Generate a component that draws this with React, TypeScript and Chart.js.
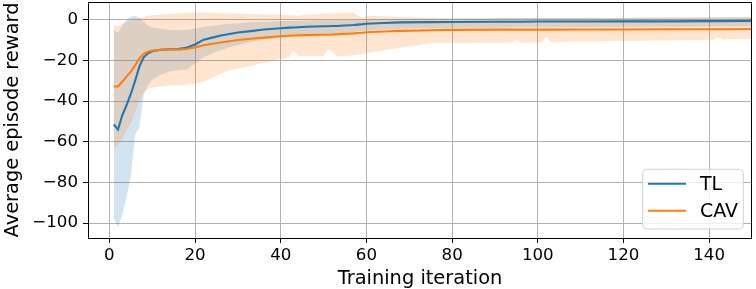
import React, { useEffect, useRef } from "react";
import { Chart, registerables } from "chart.js";

Chart.register(...registerables);

const X = [1, 2, 3, 4, 5, 6, 7, 8, 9, 10, 12, 14, 16, 18, 20, 22, 24, 26, 28, 30, 33, 36, 40, 42, 43, 44, 46, 50, 51, 52, 53, 54, 57, 58, 59, 60, 64, 68, 75, 80, 90, 94, 95, 96, 100, 101, 102, 103, 110, 120, 130, 140, 141, 142, 143, 150];

const TL_MEAN = [-51.5, -54, -47, -42, -36.5, -30, -23, -18.5, -16.5, -15.5, -14.8, -14.5, -14.4, -13.8, -12.2, -9.8, -8.8, -7.8, -7, -6.3, -5.6, -4.8, -4.2, -3.9, -3.8, -3.7, -3.5, -3.2, -3.2, -3.1, -3.1, -3.0, -2.6, -2.4, -2.2, -2.0, -1.6, -1.3, -1.2, -1.1, -1.0, -1.0, -1.0, -1.0, -0.9, -0.9, -0.9, -0.9, -0.9, -0.8, -0.8, -0.7, -0.7, -0.7, -0.7, -0.6];
const TL_UP = [-5, -6.5, -3, 0, 1.5, 2, 1, -1, -3, -3.8, -4.5, -5, -5.2, -5, -4.5, -3.5, -3, -2.5, -2, -1.8, -1.3, -1, -0.6, -0.5, -0.5, -0.5, -0.4, -0.3, -0.3, -0.2, -0.2, -0.1, 0, 0, 0.1, 0.2, 0.4, 0.5, 0.6, 0.7, 0.8, 0.8, 0.8, 0.8, 0.9, 0.9, 0.9, 0.9, 1, 1, 1.1, 1.1, 1.1, 1.1, 1.1, 1.2];
const TL_LO = [-98, -102, -96, -87, -77, -56.5, -53, -37, -32, -29.5, -27, -25.5, -24.8, -24.5, -21.5, -18.5, -16.5, -15, -13.5, -12.5, -11, -9.8, -8.6, -8.2, -8, -7.8, -7.5, -7, -6.9, -6.8, -6.7, -6.5, -6, -5.8, -5.6, -5.3, -4.8, -4.4, -4.2, -4.0, -3.9, -3.8, -3.8, -3.8, -3.7, -3.7, -3.7, -3.7, -3.6, -3.5, -3.5, -3.4, -3.4, -3.4, -3.4, -3.3];

const CAV_MEAN = [-32.8, -32.8, -30.5, -28, -25.5, -22.5, -19, -16.8, -15.8, -15.2, -14.8, -14.7, -14.7, -14.4, -13.6, -12.6, -11.8, -11.2, -10.6, -10.0, -9.4, -8.8, -8.1, -7.9, -7.8, -7.7, -7.6, -7.4, -7.4, -7.3, -7.2, -7.1, -6.7, -6.5, -6.4, -6.2, -5.8, -5.5, -5.2, -5.0, -4.9, -4.9, -4.9, -4.9, -4.9, -4.9, -4.9, -4.9, -4.8, -4.8, -4.7, -4.7, -4.7, -4.7, -4.7, -4.6];
const CAV_UP = [-2.5, -3, -2, -1, -0.5, 0, 0.8, 1.5, 2, 2.2, 2.5, 2.8, 3, 3.3, 3.6, 3.5, 3.3, 3.2, 3, 2.9, 2.8, 2.6, 2.4, 2.2, 2.1, 2.0, 2.4, 2.9, 3.0, 3.1, 3.2, 3.3, 3.6, 2.0, 0.8, 2.0, 1.7, 1.5, 0.8, 0.4, 0.6, 0.8, 0.8, 0.8, 0.8, 0.8, 0.8, 0.8, 0.8, 0.8, 1.0, 1.2, 1.2, 1.3, 1.3, 1.4];
const CAV_LO = [-63.4, -61.5, -58.5, -54.5, -50.5, -45.5, -40, -35.5, -34, -33.5, -32.8, -32.3, -32.3, -32, -31.5, -30.5, -28.5, -26.5, -25, -24, -22.8, -21.2, -19.5, -18.3, -15, -18, -17.9, -17.8, -14.6, -15.5, -18, -18.1, -17.5, -17.2, -16.9, -16.5, -15, -13.8, -11.6, -11.4, -11.3, -11.3, -9.5, -11.3, -11.2, -11.0, -8.5, -10.8, -10.7, -10.4, -10.2, -9.9, -9.8, -8.2, -9.7, -9.4];

const SERIES_LABELS = ["TL", "CAV"];
const X_TICKS = [0, 20, 40, 60, 80, 100, 120, 140];
const Y_TICKS = [-100, -80, -60, -40, -20, 0];
const X_TITLE = "Training iteration";
const Y_TITLE = "Average episode reward";

const BLUE = "#1f77b4";
const ORANGE = "#ff7f0e";
const FONT = "DejaVu Sans";

const pts = (ys: number[]) => X.map((x, i) => ({ x, y: ys[i] }));

const spinePlugin = {
  id: "spines",
  afterDatasetsDraw(chart: any) {
    const { ctx, chartArea } = chart;
    ctx.save();
    ctx.strokeStyle = "#000";
    ctx.lineWidth = 1;
    const l = Math.round(chartArea.left) + 0.5;
    const r = Math.round(chartArea.right) - 0.5;
    const t = Math.round(chartArea.top) + 0.5;
    const b = Math.round(chartArea.bottom) + 0.5;
    ctx.strokeRect(l, t, r - l, b - t);
    ctx.restore();
  },
};

const legendPlugin = {
  id: "insideLegend",
  afterDraw(chart: any) {
    const { ctx, chartArea } = chart;
    const w = 100.6;
    const h = 59.7;
    const x0 = chartArea.right - 8.7 - w;
    const y0 = chartArea.bottom - 9 - h;
    ctx.save();
    ctx.beginPath();
    const rr = 4;
    ctx.moveTo(x0 + rr, y0);
    ctx.lineTo(x0 + w - rr, y0);
    ctx.quadraticCurveTo(x0 + w, y0, x0 + w, y0 + rr);
    ctx.lineTo(x0 + w, y0 + h - rr);
    ctx.quadraticCurveTo(x0 + w, y0 + h, x0 + w - rr, y0 + h);
    ctx.lineTo(x0 + rr, y0 + h);
    ctx.quadraticCurveTo(x0, y0 + h, x0, y0 + h - rr);
    ctx.lineTo(x0, y0 + rr);
    ctx.quadraticCurveTo(x0, y0, x0 + rr, y0);
    ctx.closePath();
    ctx.fillStyle = "rgba(255,255,255,0.8)";
    ctx.fill();
    ctx.strokeStyle = "#d0d0d0";
    ctx.lineWidth = 1;
    ctx.stroke();
    const colors = [BLUE, ORANGE];
    const rows = [14.4, 41.4];
    ctx.font = `19px "${FONT}"`;
    ctx.textBaseline = "middle";
    ctx.textAlign = "left";
    SERIES_LABELS.forEach((lab, i) => {
      const yy = y0 + rows[i];
      ctx.beginPath();
      ctx.strokeStyle = colors[i];
      ctx.lineWidth = 2;
      ctx.moveTo(x0 + 5.3, yy);
      ctx.lineTo(x0 + 43.3, yy);
      ctx.stroke();
      ctx.fillStyle = "#000";
      ctx.fillText(lab, x0 + 57.3, yy + 1.3);
    });
    ctx.restore();
  },
};

const fmt = (v: number) => String(v).replace("-", "\u2212");

export default function App() {
  const ref = useRef<HTMLCanvasElement | null>(null);
  useEffect(() => {
    document.body.style.margin = "0";
    if (!ref.current) return;
    const chart = new Chart(ref.current, {
      type: "line",
      data: {
        datasets: [
          {
            label: "TL_lo",
            data: pts(TL_LO),
            borderWidth: 0,
            pointRadius: 0,
            fill: false,
            order: 5,
          },
          {
            label: "TL_up",
            data: pts(TL_UP),
            borderWidth: 0,
            pointRadius: 0,
            fill: "-1",
            backgroundColor: "rgba(31,119,180,0.2)",
            order: 4,
          },
          {
            label: "CAV_lo",
            data: pts(CAV_LO),
            borderWidth: 0,
            pointRadius: 0,
            fill: false,
            order: 3,
          },
          {
            label: "CAV_up",
            data: pts(CAV_UP),
            borderWidth: 0,
            pointRadius: 0,
            fill: "-1",
            backgroundColor: "rgba(255,127,14,0.2)",
            order: 2,
          },
          {
            label: SERIES_LABELS[0],
            data: pts(TL_MEAN),
            borderColor: BLUE,
            borderWidth: 2.1,
            pointRadius: 0,
            fill: false,
            tension: 0,
            order: 1,
          },
          {
            label: SERIES_LABELS[1],
            data: pts(CAV_MEAN),
            borderColor: ORANGE,
            borderWidth: 2.1,
            pointRadius: 0,
            fill: false,
            tension: 0,
            order: 0,
          },
        ],
      },
      options: {
        animation: false,
        responsive: false,
        devicePixelRatio: 1,
        layout: { padding: { top: 2, right: 4, left: 0, bottom: 0 } },
        plugins: {
          legend: { display: false },
          tooltip: { enabled: false },
        },
        scales: {
          x: {
            type: "linear",
            min: -5,
            max: 150,
            afterBuildTicks: (s: any) => {
              s.ticks = X_TICKS.map((v) => ({ value: v }));
            },
            afterFit: (s: any) => {
              s.height = 51;
              s.paddingLeft = 0;
              s.paddingRight = 0;
            },
            grid: {
              color: "#b0b0b0",
              lineWidth: 1,
              drawTicks: true,
              tickLength: 5,
              tickColor: "#000",
            },
            border: { display: false },
            ticks: {
              autoSkip: false,
              maxRotation: 0,
              padding: 3,
              color: "#000",
              font: { family: FONT, size: 16.67 },
              callback: (v: any) => fmt(Number(v)),
            },
            title: {
              display: true,
              text: X_TITLE,
              color: "#000",
              font: { family: FONT, size: 19.4, lineHeight: 1 },
              padding: { top: 0, bottom: 0 },
            },
          },
          y: {
            type: "linear",
            min: -107.3,
            max: 8.7,
            afterBuildTicks: (s: any) => {
              s.ticks = Y_TICKS.map((v) => ({ value: v }));
            },
            afterFit: (s: any) => {
              s.width = 88;
              s.paddingTop = 0;
              s.paddingBottom = 0;
            },
            grid: {
              color: "#b0b0b0",
              lineWidth: 1,
              drawTicks: true,
              tickLength: 5,
              tickColor: "#000",
            },
            border: { display: false },
            ticks: {
              autoSkip: false,
              padding: 5,
              color: "#000",
              font: { family: FONT, size: 16.67 },
              callback: (v: any) => fmt(Number(v)),
            },
            title: {
              display: true,
              text: Y_TITLE,
              color: "#000",
              font: { family: FONT, size: 19.4, lineHeight: 1.2 },
              padding: { top: 1, bottom: 0 },
            },
          },
        },
      },
      plugins: [spinePlugin, legendPlugin],
    } as any);
    return () => chart.destroy();
  }, []);
  return (
    <div style={{ width: 756, height: 289 }}>
      <canvas ref={ref} width={756} height={289} style={{ display: "block" }} />
    </div>
  );
}
